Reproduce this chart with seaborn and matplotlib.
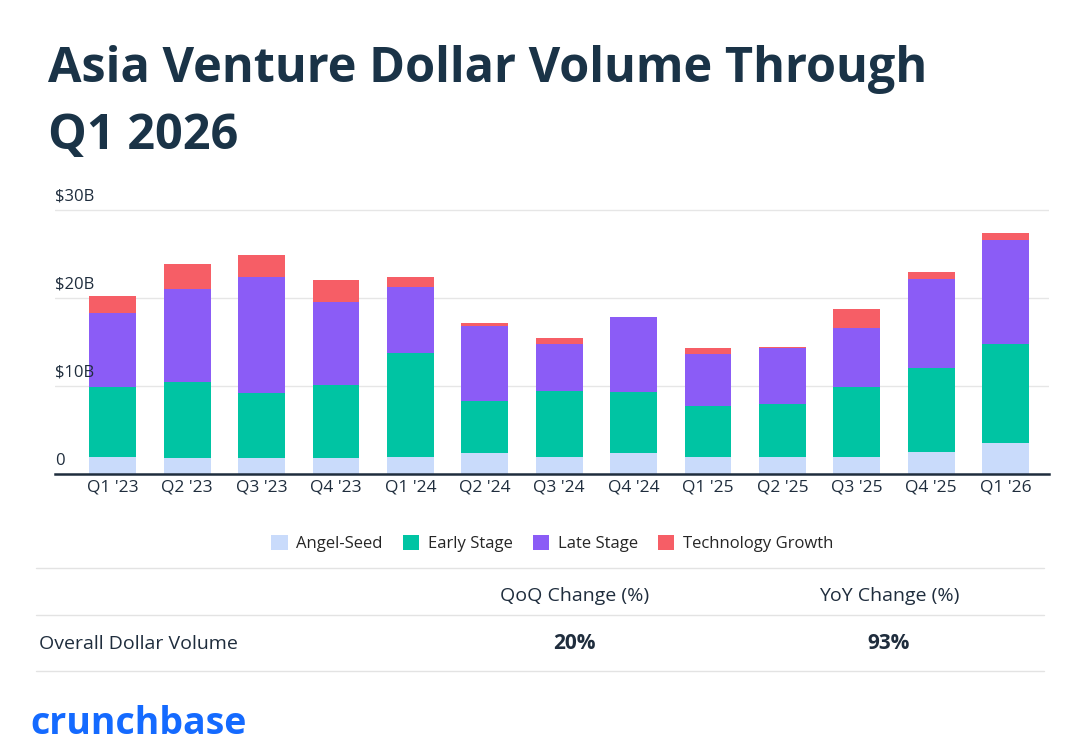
import matplotlib
matplotlib.use("Agg")
import matplotlib.pyplot as plt
import seaborn as sns
import numpy as np
import pandas as pd

quarters = ["Q1 '23","Q2 '23","Q3 '23","Q4 '23","Q1 '24","Q2 '24","Q3 '24","Q4 '24","Q1 '25","Q2 '25","Q3 '25","Q4 '25","Q1 '26"]
angel = [2.0,1.8,1.8,1.8,2.0,2.4,2.0,2.4,2.0,2.0,2.0,2.5,3.6]
early = [7.9,8.7,7.4,8.3,11.8,5.9,7.4,6.9,5.7,6.0,7.9,9.6,11.2]
late = [8.4,10.5,13.2,9.5,7.5,8.5,5.4,8.5,6.0,6.3,6.7,10.0,11.8]
tech = [1.9,2.8,2.5,2.4,1.1,0.4,0.7,0.1,0.6,0.1,2.2,0.8,0.8]
series = ["Angel-Seed","Early Stage","Late Stage","Technology Growth"]
colors = ["#c9dbfb","#00c4a3","#8b5cf6","#f65e66"]

sns.set_theme(style="white")
plt.rcParams['font.family'] = ['Open Sans','DejaVu Sans']

fig = plt.figure(figsize=(10.88,7.47), dpi=100)
ax = fig.add_axes([0.051,0.365,0.913,0.36])
df = pd.DataFrame({"q":quarters,"Angel-Seed":angel,"Early Stage":early,"Late Stage":late,"Technology Growth":tech})
bottom = np.zeros(len(quarters))
for s,c in zip(series,colors):
    sns.barplot(x="q", y=s, data=df, bottom=bottom, color=c, ax=ax, width=0.63, label=s,
                saturation=1, linewidth=0)
    bottom += df[s].values
ax.set_ylim(0,30.5)
ax.set_yticks([0,10,20,30])
ax.set_yticklabels([])
ax.tick_params(axis='y', length=0)
ax.set_xlim(-0.77,12.58)
ax.grid(axis='y', color="#e6e6e6")
ax.set_axisbelow(True)
for sp in ["top","right","left"]:
    ax.spines[sp].set_visible(False)
ax.spines["bottom"].set_color("#1f2d3d"); ax.spines["bottom"].set_linewidth(1.8)
ax.set_xlabel(""); ax.set_ylabel("")
ax.tick_params(axis='x', labelsize=12.5, colors="#1f2d3d", length=0)
for v,t in zip([0,10,20,30],["0","$10B","$20B","$30B"]):
    ax.text(0.0, v+0.6, t, transform=ax.get_yaxis_transform(), fontsize=12, color="#1f2d3d", ha="left", va="bottom")
ax.legend(loc="upper center", bbox_to_anchor=(0.5,-0.17), ncol=4, frameon=False, fontsize=12,
          handlelength=1.0, handleheight=1.0, columnspacing=1.2, handletextpad=0.5)
fig.text(0.044,0.89,"Asia Venture Dollar Volume Through", fontsize=35, fontweight="bold", color="#1a3347")
fig.text(0.044,0.80,"Q1 2026", fontsize=35, fontweight="bold", color="#1a3347")
for y in [0.24,0.177,0.102]:
    fig.add_artist(plt.Line2D([0.033,0.96],[y,y], color="#e3e3e3", lw=1))
fig.text(0.528,0.196,"QoQ Change (%)", fontsize=14, color="#1f2d3d", ha="center")
fig.text(0.817,0.196,"YoY Change (%)", fontsize=14, color="#1f2d3d", ha="center")
fig.text(0.036,0.131,"Overall Dollar Volume", fontsize=14, color="#1f2d3d")
fig.text(0.528,0.131,"20%", fontsize=15, fontweight="bold", color="#1f2d3d", ha="center")
fig.text(0.817,0.131,"93%", fontsize=15, fontweight="bold", color="#1f2d3d", ha="center")
fig.text(0.028,0.018,"crunchbase", fontsize=27, fontweight="bold", color="#146aff")
fig.savefig("out.png", dpi=100)
